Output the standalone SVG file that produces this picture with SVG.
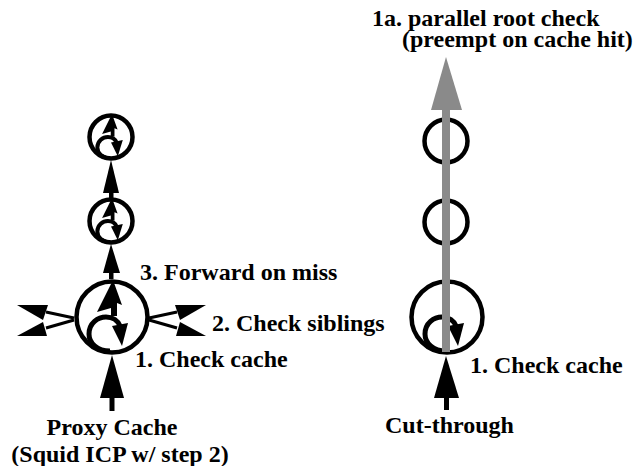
<svg xmlns="http://www.w3.org/2000/svg" xmlns:xlink="http://www.w3.org/1999/xlink" width="641" height="466" viewBox="0 0 641 466">
<style>
.node{fill:none;stroke:#000;stroke-width:4.5}
.loop{fill:none;stroke:#000;stroke-width:5}
.loops{fill:none;stroke:#000;stroke-width:4}
.blk{fill:#000;stroke:none}
.ln{stroke:#000;stroke-width:3;fill:none}
.gray{fill:#8a8a8a;stroke:none}
</style>
<defs>
<g id="loop">
<path class="loop" d="M -1 34 C -14 34 -22 26 -22 17 C -22 6 -13 0 -5 0 C 2 0 7 4 9 9" vector-effect="non-scaling-stroke"/>
<polygon class="blk" points="1,9 17,6 11,29"/>
</g>
<g id="loopS">
<path class="loops" d="M -1 34 C -14 34 -22 26 -22 17 C -22 6 -13 0 -5 0 C 2 0 7 4 9 9" vector-effect="non-scaling-stroke"/>
<polygon class="blk" points="0,9 19,5 11,31"/>
</g>
<polygon id="bolt" class="blk" points="0,-37 9,-12 4,-14 4,-1 -2,-1 -2,-9 -16,-5"/>
</defs>

<g id="proxy-top">
<circle class="node" cx="111" cy="137" r="21.5"/>
<use xlink:href="#loopS" transform="translate(111,137) scale(0.62)"/>
<use xlink:href="#bolt" transform="translate(112,137) scale(0.62)"/>
</g>
<g id="proxy-mid">
<circle class="node" cx="111" cy="221" r="21.5"/>
<use xlink:href="#loopS" transform="translate(111,221) scale(0.62)"/>
<use xlink:href="#bolt" transform="translate(112,221) scale(0.62)"/>
</g>
<g id="proxy-cache">
<circle class="node" cx="112" cy="317" r="35.5"/>
<use xlink:href="#loop" transform="translate(111,317)"/>
<use xlink:href="#bolt" transform="translate(113,317)"/>
</g>

<g id="cut-top">
<circle class="node" cx="446" cy="141" r="21.5"/>
</g>
<g id="cut-mid">
<circle class="node" cx="446" cy="222" r="21.5"/>
</g>
<g id="cut-cache">
<circle class="node" cx="447" cy="317" r="35.5"/>
<use xlink:href="#loop" transform="translate(447,317)"/>
</g>

<g id="connectors">
<polygon class="blk" points="111,160 103,193 119,193"/>
<rect class="blk" x="109" y="192" width="4.5" height="6"/>
<polygon class="blk" points="111,244 103,273 120,273"/>
<rect class="blk" x="109" y="272" width="4.5" height="7"/>
<polygon class="blk" points="112,355 100,398 124,398"/>
<rect class="blk" x="109.5" y="397" width="5" height="14"/>
<line class="ln" x1="74" y1="318" x2="46" y2="312"/>
<line class="ln" x1="74" y1="320" x2="46" y2="328"/>
<polygon class="blk" points="17,305 48,305 43,320"/>
<polygon class="blk" points="17,336 47,336 43,322"/>
<line class="ln" x1="149" y1="318" x2="177" y2="312"/>
<line class="ln" x1="149" y1="320" x2="177" y2="328"/>
<polygon class="blk" points="206,305 175,305 180,320"/>
<polygon class="blk" points="206,336 176,336 180,322"/>
<rect class="gray" x="442" y="108" width="8" height="244"/>
<polygon class="gray" points="446,57 431,110 462,110"/>
<polygon class="blk" points="446,356 434,398 459,398"/>
<rect class="blk" x="444" y="397" width="5" height="13"/>
</g>

<g id="labels" font-family="'Liberation Serif', 'Times New Roman', serif" font-weight="bold" font-size="24" fill="#000">
<text x="140" y="280">3. Forward on miss</text>
<text x="212" y="331">2. Check siblings</text>
<text x="135" y="367">1. Check cache</text>
<text x="112" y="435" text-anchor="middle">Proxy Cache</text>
<text x="120" y="462" text-anchor="middle">(Squid ICP w/ step 2)</text>
<text x="470" y="373">1. Check cache</text>
<text x="385" y="433">Cut-through</text>
<text x="372" y="26">1a. parallel root check</text>
<text x="402" y="47">(preempt on cache hit)</text>
</g>
</svg>
